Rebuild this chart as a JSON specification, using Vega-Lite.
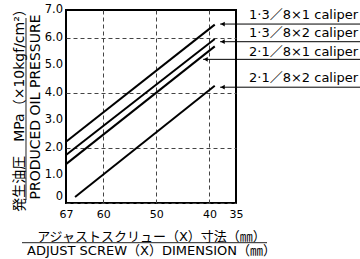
{
  "$schema": "https://vega.github.io/schema/vega-lite/v6.json",
  "width": 170,
  "height": 193,
  "autosize": {"type": "none"},
  "padding": {"left": 66, "top": 10, "right": 124, "bottom": 56},
  "background": "white",
  "config": {
    "view": {"stroke": "black", "strokeWidth": 2},
    "font": "DejaVu Sans, Noto Sans CJK JP",
    "axis": {"labelOverlap": false, "labelBound": false}
  },
  "layer": [
    {
      "data": {"values": [
        {"series": "1·3／8×1", "x": 67, "y": 2.22},
        {"series": "1·3／8×1", "x": 39, "y": 6.47},
        {"series": "1·3／8×2", "x": 67, "y": 1.74},
        {"series": "1·3／8×2", "x": 39, "y": 5.95},
        {"series": "2·1／8×1", "x": 67, "y": 1.41},
        {"series": "2·1／8×1", "x": 39, "y": 5.68},
        {"series": "2·1／8×2", "x": 65.3, "y": 0.22},
        {"series": "2·1／8×2", "x": 39, "y": 4.25}
      ]},
      "mark": {"type": "line", "color": "black", "strokeWidth": 2, "clip": false},
      "encoding": {
        "x": {
          "field": "x", "type": "quantitative",
          "scale": {"domain": [67, 35], "nice": false, "zero": false},
          "axis": {
            "values": [67, 60, 50, 40, 35],
            "ticks": false, "domain": false, "labelOverlap": false,
            "grid": true, "gridDash": [4, 3], "gridColor": "#444",
            "gridOpacity": {"condition": {"test": "datum.value == 67 || datum.value == 35", "value": 0}, "value": 1},
            "labelFont": "DejaVu Sans", "labelFontSize": 11, "labelColor": "black", "labelPadding": 5,
            "labelFlush": false,
            "title": ["アジャストスクリュー（X）寸法（㎜）", "ADJUST SCREW（X）DIMENSION（㎜）"],
            "titleFont": "DejaVu Sans, Noto Sans CJK JP", "titleFontSize": 13, "titleFontWeight": "normal",
            "titleColor": "black", "titleLineHeight": 14, "titlePadding": 11.5
          }
        },
        "y": {
          "field": "y", "type": "quantitative",
          "scale": {"domain": [0, 7], "nice": false},
          "axis": {
            "values": [0, 1, 2, 3, 4, 5, 6, 7],
            "labels": false,
            "ticks": false, "domain": false,
            "grid": true, "gridDash": [4, 3], "gridColor": "#444",
            "title": ["発生油圧　MPa（×10kgf/cm²）", "PRODUCED OIL PRESSURE"],
            "titleFont": "DejaVu Sans, Noto Sans CJK JP", "titleFontSize": 14, "titleFontWeight": "normal",
            "titleColor": "black", "titleLineHeight": 16, "titlePadding": 24
          }
        },
        "detail": {"field": "series", "type": "nominal"}
      }
    },
    {
      "data": {"values": [
        {"v": 1, "t": "1.0"},
        {"v": 2, "t": "2.0"},
        {"v": 3, "t": "3.0"},
        {"v": 4, "t": "4.0"},
        {"v": 5, "t": "5.0"},
        {"v": 6, "t": "6.0"},
        {"v": 7, "t": "7.0"}
      ]},
      "mark": {"type": "text", "align": "right", "baseline": "middle", "fontSize": 11.5, "color": "black", "font": "DejaVu Sans", "clip": false},
      "encoding": {
        "x": {"datum": 67.56, "type": "quantitative"},
        "y": {"field": "v", "type": "quantitative"},
        "text": {"field": "t"}
      }
    },
    {
      "data": {"values": [
        {"v": 0, "t": "0"}
      ]},
      "mark": {"type": "text", "align": "right", "baseline": "bottom", "dy": -1, "fontSize": 11.5, "color": "black", "font": "DejaVu Sans", "clip": false},
      "encoding": {
        "x": {"datum": 67.56, "type": "quantitative"},
        "y": {"field": "v", "type": "quantitative"},
        "text": {"field": "t"}
      }
    },
    {
      "data": {"values": [
        {"x1": 74.53, "x2": 74.53, "y1": 6.71, "y2": 0.11},
        {"x1": 75.28, "x2": 29.16, "y1": -1.44, "y2": -1.44}
      ]},
      "mark": {"type": "rule", "color": "#222", "strokeWidth": 1, "clip": false},
      "encoding": {
        "x": {"field": "x1", "type": "quantitative"},
        "x2": {"field": "x2"},
        "y": {"field": "y1", "type": "quantitative"},
        "y2": {"field": "y2"}
      }
    },
    {
      "data": {"values": [
        {"label": "1·3／8×1 caliper", "tip": 38.0, "end": 10, "ah": 37.5, "ay": 6.49, "ty": 6.82},
        {"label": "1·3／8×2 caliper", "tip": 38.0, "end": 10, "ah": 37.5, "ay": 5.85, "ty": 6.17},
        {"label": "2·1／8×1 caliper", "tip": 41.2, "end": 10, "ah": 40.7, "ay": 5.21, "ty": 5.48},
        {"label": "2·1／8×2 caliper", "tip": 38.0, "end": 10, "ah": 37.5, "ay": 4.20, "ty": 4.53}
      ]},
      "layer": [
        {
          "mark": {"type": "rule", "color": "black", "strokeWidth": 1, "clip": false},
          "encoding": {
            "x": {"field": "tip", "type": "quantitative"},
            "x2": {"field": "end"},
            "y": {"field": "ay", "type": "quantitative"}
          }
        },
        {
          "mark": {"type": "point", "shape": "triangle-left", "filled": true, "color": "black", "size": 22, "opacity": 1, "clip": false},
          "encoding": {
            "x": {"field": "ah", "type": "quantitative"},
            "y": {"field": "ay", "type": "quantitative"}
          }
        },
        {
          "mark": {"type": "text", "align": "left", "baseline": "middle", "fontSize": 13, "color": "black", "font": "DejaVu Sans, Noto Sans CJK JP", "clip": false},
          "encoding": {
            "x": {"datum": 32.55, "type": "quantitative"},
            "y": {"field": "ty", "type": "quantitative"},
            "text": {"field": "label"}
          }
        }
      ]
    }
  ]
}
